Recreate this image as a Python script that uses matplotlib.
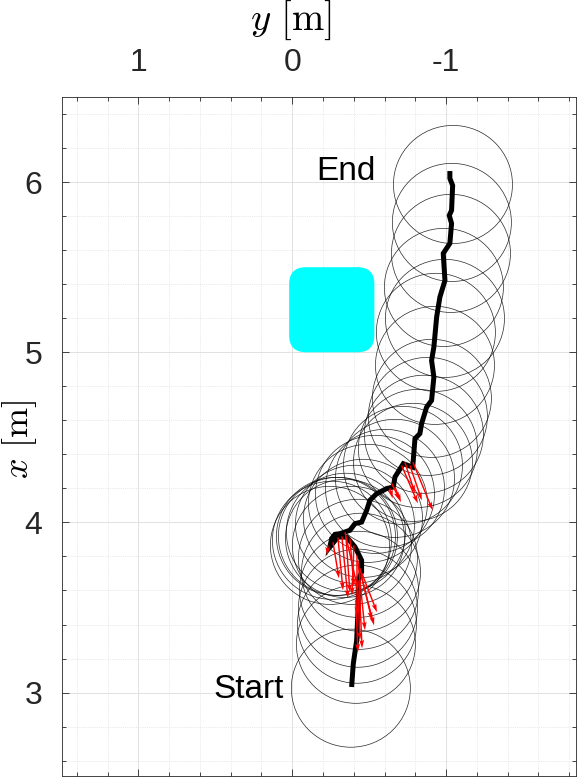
import matplotlib
matplotlib.use("Agg")

import matplotlib.pyplot as plt
import numpy as np
from matplotlib.patches import Ellipse, FancyBboxPatch
from matplotlib.ticker import MultipleLocator

plt.rcParams['font.family'] = ['Liberation Sans', 'DejaVu Sans']
plt.rcParams['mathtext.fontset'] = 'cm'

# trajectory (y lateral, x forward), start -> end
path_y = [-0.386, -0.397, -0.419, -0.429, -0.429, -0.451, -0.451, -0.408, -0.354,
          -0.297, -0.245, -0.256, -0.278, -0.310, -0.343, -0.375, -0.408, -0.451,
          -0.484, -0.505, -0.549, -0.614, -0.657, -0.668, -0.722, -0.783, -0.787,
          -0.798, -0.830, -0.841, -0.874, -0.906, -0.921, -0.906, -0.921, -0.939,
          -0.960, -0.993, -0.982, -1.025, -1.036, -1.021, -1.036, -1.043, -1.025, -1.025]
path_x = [3.033, 3.170, 3.307, 3.503, 3.660, 3.709, 3.777, 3.856, 3.914,
          3.914, 3.856, 3.905, 3.930, 3.934, 3.944, 3.954, 3.993, 4.002,
          4.071, 4.130, 4.169, 4.199, 4.208, 4.267, 4.345, 4.325, 4.365,
          4.492, 4.522, 4.580, 4.678, 4.717, 4.854, 4.952, 5.031, 5.207,
          5.324, 5.422, 5.581, 5.640, 5.757, 5.804, 5.834, 5.980, 6.022, 6.065]

# robot footprint centres
circle_y = [-1.045, -1.038, -1.032, -0.986, -0.993, -0.934, -0.928, -0.908, -0.882,
            -0.856, -0.817, -0.785, -0.720, -0.668, -0.603, -0.538, -0.492, -0.460,
            -0.408, -0.349, -0.297, -0.258, -0.245, -0.284, -0.343, -0.388, -0.427,
            -0.447, -0.434, -0.427, -0.421, -0.414, -0.381]
circle_x = [5.986, 5.763, 5.581, 5.381, 5.199, 5.117, 4.923, 4.729, 4.623,
            4.518, 4.435, 4.353, 4.335, 4.259, 4.200, 4.165, 4.112, 4.024,
            3.989, 3.942, 3.918, 3.895, 3.865, 3.918, 3.906, 3.865, 3.789,
            3.707, 3.601, 3.496, 3.402, 3.284, 3.026]

# red force arrows: base point and components
arrow_y = [-0.711, -0.765, -0.785, -0.646, -0.668, -0.635, -0.733,
           -0.297, -0.323, -0.349, -0.375, -0.401, -0.265, -0.232, -0.343,
           -0.427, -0.440, -0.453, -0.434, -0.427, -0.447, -0.421, -0.414]
arrow_x = [4.335, 4.335, 4.353, 4.230, 4.208, 4.200, 4.353,
           3.912, 3.918, 3.918, 3.906, 3.865, 3.883, 3.865, 3.942,
           3.777, 3.730, 3.701, 3.660, 3.601, 3.689, 3.807, 3.543]
arrow_u = [-0.106, -0.078, -0.128, -0.054, -0.039, -0.018, -0.065,
           -0.033, -0.039, -0.026, -0.026, 0.013, -0.039, 0.006, -0.085,
           -0.046, -0.078, -0.098, -0.020, -0.013, -0.085, 0.000, -0.013]
arrow_v = [-0.223, -0.206, -0.282, -0.100, -0.090, -0.059, -0.182,
           -0.311, -0.364, -0.329, -0.282, -0.294, -0.212, -0.059, -0.341,
           -0.411, -0.306, -0.229, -0.400, -0.294, -0.294, -0.353, -0.306]

obstacle_y = (-0.534, 0.020)
obstacle_x = (5.0, 5.5)

fig = plt.figure(figsize=(5.78, 7.78), dpi=100)
ax = fig.add_axes([0.1073, 0.0026, 0.8892, 0.8727])

ax.set_xlim(1.497, -1.845)
ax.set_ylim(2.51, 6.5)

# obstacle
ob = FancyBboxPatch((obstacle_y[0], obstacle_x[0]),
                    obstacle_y[1] - obstacle_y[0], obstacle_x[1] - obstacle_x[0],
                    boxstyle="round,pad=0,rounding_size=0.11", mutation_aspect=0.9,
                    facecolor='#00ffff', edgecolor='none', zorder=2)
ax.add_patch(ob)

for cy, cx in zip(circle_y, circle_x):
    ax.add_patch(Ellipse((cy, cx), 0.774, 0.694, fill=False, edgecolor='black',
                         linewidth=0.5, alpha=0.85, zorder=3))

ax.plot(path_y, path_x, color='black', linewidth=3.6, solid_capstyle='butt',
        solid_joinstyle='miter', zorder=4)

ax.quiver(arrow_y, arrow_x, arrow_u, arrow_v, angles='xy', scale_units='xy', scale=1,
          color='#ff0000', width=0.0028, headwidth=3.5, headlength=6, headaxislength=5,
          zorder=5)

ax.text(-0.348, 6.063, 'End', fontsize=24, ha='center', va='center', zorder=6)
ax.text(0.054, 3.02, 'Start', fontsize=24, ha='right', va='center', zorder=6)

# axes styling (MATLAB look)
ax.xaxis.tick_top()
ax.xaxis.set_label_position('top')
ax.set_xticks([1, 0, -1])
ax.set_xticklabels(['1', '0', '-1'])
ax.set_yticks([3, 4, 5, 6])
ax.xaxis.set_minor_locator(MultipleLocator(0.2))
ax.yaxis.set_minor_locator(MultipleLocator(0.2))
ax.tick_params(which='both', direction='in', top=True, bottom=True, left=True, right=True,
               colors='#262626', labelsize=23, width=0.6)
ax.tick_params(which='major', length=5, pad=14)
ax.tick_params(which='minor', length=3)
ax.grid(which='major', color='#dcdcdc', linewidth=0.6, linestyle='-')
ax.grid(which='minor', color='#d6d6d6', linewidth=0.5, linestyle=':')
ax.set_axisbelow(True)
for s in ax.spines.values():
    s.set_color('#262626')
    s.set_linewidth(0.6)

ax.set_xlabel(r'$y\ [\mathrm{m}]$', fontsize=28)
ax.xaxis.set_label_coords(0.4455, 1.113)
ax.xaxis.label.set_va('center')
ax.set_ylabel(r'$x\ [\mathrm{m}]$', fontsize=26)
ax.yaxis.set_label_coords(-0.082, 0.495)
ax.yaxis.label.set_va('center')

fig.savefig('out.png', dpi=100)
